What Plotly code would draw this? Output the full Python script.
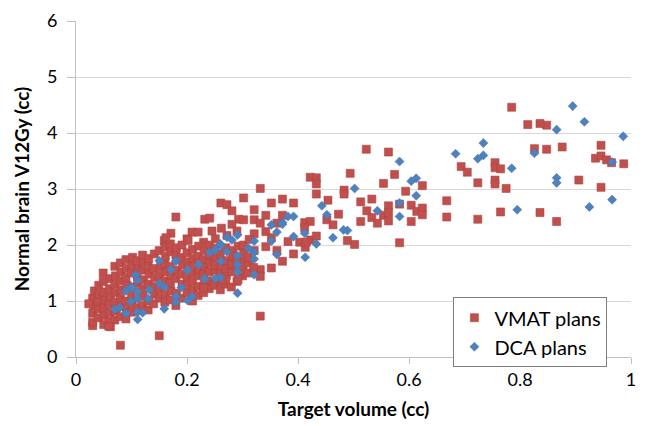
import plotly.graph_objects as go

# VMAT plans (target volume cc, normal brain V12Gy cc)
vmat_x = [0.848, 0.848, 0.876, 0.946, 0.936, 0.946, 0.956, 0.965, 0.987, 0.906,
          0.946, 0.866, 0.785, 0.814, 0.836, 0.826, 0.694, 0.705, 0.755, 0.755,
          0.765, 0.724, 0.755, 0.755, 0.775, 0.668, 0.668, 0.724, 0.765, 0.836,
          0.523, 0.563, 0.494, 0.574, 0.554, 0.594, 0.624, 0.513, 0.533, 0.524,
          0.533, 0.543, 0.513, 0.554, 0.563, 0.563, 0.563, 0.583, 0.604, 0.614,
          0.624, 0.624, 0.604, 0.502, 0.583, 0.489, 0.422, 0.433, 0.433, 0.433,
          0.483, 0.483, 0.332, 0.352, 0.372, 0.392, 0.454, 0.473, 0.452, 0.463,
          0.321, 0.321, 0.332, 0.342, 0.342, 0.352, 0.362, 0.372, 0.412, 0.422,
          0.412, 0.422, 0.433, 0.321, 0.342, 0.362, 0.382, 0.403, 0.413, 0.392,
          0.372, 0.352, 0.332, 0.332, 0.332, 0.302, 0.261, 0.272, 0.281, 0.293,
          0.302, 0.281, 0.180, 0.232, 0.241, 0.171, 0.159, 0.209, 0.220, 0.200,
          0.230, 0.251, 0.272, 0.282, 0.302, 0.302, 0.150, 0.030, 0.080, 0.030,
          0.030, 0.032, 0.030, 0.033, 0.040, 0.041, 0.040, 0.042, 0.041, 0.050,
          0.051, 0.050, 0.052, 0.050, 0.049, 0.049, 0.060, 0.061, 0.060, 0.062,
          0.060, 0.061, 0.070, 0.071, 0.070, 0.072, 0.070, 0.071, 0.070, 0.080,
          0.081, 0.080, 0.082, 0.080, 0.081, 0.080, 0.090, 0.091, 0.090, 0.092,
          0.090, 0.091, 0.090, 0.100, 0.101, 0.100, 0.102, 0.100, 0.101, 0.102,
          0.110, 0.111, 0.110, 0.112, 0.110, 0.120, 0.121, 0.120, 0.122, 0.120,
          0.121, 0.120, 0.130, 0.131, 0.130, 0.132, 0.130, 0.131, 0.140, 0.141,
          0.140, 0.142, 0.140, 0.141, 0.150, 0.151, 0.150, 0.152, 0.150, 0.160,
          0.161, 0.160, 0.162, 0.160, 0.161, 0.160, 0.170, 0.171, 0.170, 0.172,
          0.170, 0.171, 0.170, 0.180, 0.181, 0.180, 0.182, 0.180, 0.181, 0.190,
          0.191, 0.190, 0.192, 0.190, 0.191, 0.200, 0.201, 0.200, 0.202, 0.200,
          0.210, 0.211, 0.210, 0.212, 0.210, 0.211, 0.210, 0.220, 0.221, 0.220,
          0.222, 0.220, 0.221, 0.230, 0.231, 0.230, 0.232, 0.230, 0.231, 0.240,
          0.241, 0.240, 0.242, 0.240, 0.241, 0.250, 0.251, 0.250, 0.252, 0.250,
          0.260, 0.261, 0.260, 0.262, 0.260, 0.270, 0.271, 0.270, 0.272, 0.270,
          0.280, 0.281, 0.280, 0.282, 0.290, 0.291, 0.290, 0.292, 0.300, 0.301,
          0.300, 0.302, 0.310, 0.311, 0.310, 0.312, 0.320, 0.321, 0.062, 0.162,
          0.262, 0.245, 0.290, 0.023, 0.059, 0.202, 0.263, 0.292, 0.230, 0.415]
vmat_y = [4.14, 3.71, 3.75, 3.78, 3.55, 3.59, 3.52, 3.47, 3.45, 3.16,
          3.03, 2.42, 4.46, 4.15, 4.17, 3.72, 3.40, 3.30, 3.47, 3.38,
          3.36, 3.11, 3.16, 3.09, 3.01, 2.79, 2.50, 2.46, 2.59, 2.58,
          3.71, 3.66, 3.28, 3.26, 3.10, 2.96, 3.06, 2.77, 2.82, 2.61,
          2.49, 2.39, 2.42, 2.53, 2.70, 2.58, 2.43, 2.73, 2.71, 2.60,
          2.66, 2.54, 2.42, 2.01, 2.04, 2.08, 3.21, 3.20, 3.09, 2.91,
          2.98, 2.91, 3.01, 2.75, 2.82, 2.75, 2.80, 2.55, 2.45, 2.36,
          2.63, 2.45, 2.39, 2.53, 2.24, 2.13, 2.39, 2.53, 2.40, 2.42,
          2.31, 2.09, 2.16, 2.20, 1.97, 1.90, 2.06, 2.05, 1.96, 1.84,
          1.71, 1.59, 1.56, 1.44, 0.73, 2.84, 2.75, 2.72, 2.61, 2.46,
          2.45, 2.37, 2.50, 2.46, 2.48, 2.21, 2.08, 2.23, 2.23, 2.11,
          2.05, 2.11, 2.17, 1.90, 1.87, 1.72, 0.38, 0.56, 0.21, 0.62,
          0.78, 0.92, 1.05, 1.18, 0.70, 0.86, 1.00, 1.12, 1.28, 0.58,
          0.74, 0.88, 1.02, 1.16, 1.35, 1.50, 0.64, 0.80, 0.95, 1.08,
          1.22, 1.40, 0.66, 0.82, 0.98, 1.15, 1.30, 1.45, 1.62, 0.72,
          0.90, 1.05, 1.20, 1.36, 1.52, 1.68, 0.68, 0.85, 1.00, 1.28,
          1.42, 1.58, 1.74, 0.80, 0.95, 1.10, 1.25, 1.50, 1.65, 1.78,
          0.88, 1.32, 1.46, 1.60, 1.72, 0.92, 1.08, 1.22, 1.38, 1.55,
          1.70, 1.82, 0.84, 1.00, 1.30, 1.48, 1.62, 1.76, 0.95, 1.12,
          1.26, 1.42, 1.58, 1.84, 1.05, 1.20, 1.45, 1.60, 1.90, 0.98,
          1.12, 1.36, 1.52, 1.66, 1.80, 1.96, 1.02, 1.18, 1.32, 1.46,
          1.62, 1.88, 2.02, 0.92, 1.14, 1.40, 1.55, 1.82, 1.95, 1.05,
          1.30, 1.48, 1.64, 1.78, 2.00, 1.15, 1.28, 1.42, 1.70, 1.86,
          1.00, 1.20, 1.35, 1.50, 1.62, 1.76, 1.92, 1.10, 1.26, 1.45,
          1.55, 1.80, 1.98, 1.15, 1.30, 1.48, 1.62, 1.74, 1.90, 1.22,
          1.36, 1.52, 1.68, 1.82, 2.00, 1.28, 1.55, 1.64, 1.78, 1.94,
          1.20, 1.35, 1.50, 1.62, 1.84, 1.30, 1.45, 1.58, 1.72, 1.95,
          1.25, 1.52, 1.66, 1.80, 1.35, 1.58, 1.70, 1.98, 1.45, 1.55,
          1.62, 2.00, 1.50, 1.68, 1.78, 2.10, 1.60, 1.90, 0.54, 2.13,
          2.30, 2.25, 2.25, 0.95, 0.55, 2.08, 1.38, 1.38, 1.24, 2.05]

# DCA plans
dca_x = [0.895, 0.916, 0.866, 0.986, 0.966, 0.866, 0.866, 0.966, 0.925, 0.684,
         0.734, 0.724, 0.734, 0.785, 0.826, 0.795, 0.502, 0.583, 0.604, 0.613,
         0.613, 0.583, 0.543, 0.583, 0.489, 0.443, 0.452, 0.482, 0.463, 0.433,
         0.412, 0.392, 0.382, 0.392, 0.372, 0.362, 0.352, 0.352, 0.362, 0.413,
         0.321, 0.321, 0.321, 0.311, 0.321, 0.291, 0.272, 0.281, 0.261, 0.241,
         0.251, 0.272, 0.291, 0.291, 0.291, 0.261, 0.260, 0.251, 0.232, 0.221,
         0.201, 0.180, 0.171, 0.150, 0.150, 0.159, 0.190, 0.180, 0.209, 0.201,
         0.180, 0.291, 0.159, 0.108, 0.111, 0.099, 0.090, 0.111, 0.132, 0.130,
         0.111, 0.099, 0.070, 0.079, 0.090, 0.111, 0.120, 0.111, 0.180, 0.101,
         0.372, 0.260]
dca_y = [4.48, 4.20, 4.06, 3.94, 3.48, 3.20, 3.11, 2.81, 2.68, 3.63,
         3.82, 3.54, 3.60, 3.37, 3.64, 2.63, 3.01, 3.49, 3.14, 3.19,
         2.88, 2.75, 2.61, 2.51, 2.26, 2.70, 2.54, 2.27, 2.13, 2.02,
         2.21, 2.15, 2.51, 2.51, 2.40, 2.23, 2.36, 2.07, 1.83, 1.78,
         2.07, 1.87, 1.75, 1.94, 1.47, 2.18, 2.14, 2.09, 1.99, 1.87,
         1.91, 1.88, 1.81, 1.65, 1.52, 1.71, 1.42, 1.40, 1.40, 1.65,
         1.55, 1.71, 1.56, 1.72, 1.31, 1.25, 1.24, 1.08, 1.08, 1.01,
         0.98, 1.14, 0.86, 1.47, 1.37, 1.25, 1.18, 1.16, 1.20, 1.04,
         1.04, 0.99, 0.85, 0.88, 0.78, 0.80, 0.79, 0.67, 1.72, 1.24,
         2.37, 2.02]

x_ticks = [0, 0.2, 0.4, 0.6, 0.8, 1]
x_tick_text = ["0", "0.2", "0.4", "0.6", "0.8", "1"]
y_ticks = [0, 1, 2, 3, 4, 5, 6]

FONT = "Lato"

fig = go.Figure()
fig.add_trace(go.Scatter(
    x=vmat_x, y=vmat_y, mode="markers", name="VMAT plans",
    marker=dict(symbol="square", size=8, color="#C0504D",
                line=dict(width=0.6, color="#B4423F")),
))
fig.add_trace(go.Scatter(
    x=dca_x, y=dca_y, mode="markers", name="DCA plans",
    marker=dict(symbol="diamond", size=7, color="#4F81BD",
                line=dict(width=0.5, color="#4577B3")),
))

fig.update_layout(
    width=645, height=426,
    margin=dict(l=76, r=9, t=19, b=69),
    paper_bgcolor="white", plot_bgcolor="white",
    font=dict(family=FONT, size=18, color="#000000"),
    showlegend=True,
    legend=dict(
        x=0.68, y=0.178, xanchor="left", yanchor="top",
        bgcolor="white", bordercolor="#7F7F7F", borderwidth=1,
        font=dict(family=FONT, size=20, color="#000000"),
        tracegroupgap=0,
    ),
    xaxis=dict(
        range=[0, 1], tickvals=x_ticks, ticktext=x_tick_text,
        showgrid=False, zeroline=False,
        showline=True, linecolor="#BFBFBF", linewidth=1,
        ticks="outside", ticklen=6, tickcolor="#BFBFBF",
        tickfont=dict(family=FONT, size=18, color="#000000"),
        title=dict(text="<b>Target volume (cc)</b>", standoff=14,
                   font=dict(family=FONT, size=19, color="#000000")),
        fixedrange=True,
    ),
    yaxis=dict(
        range=[0, 6], tickvals=y_ticks,
        showgrid=True, gridcolor="#D9D9D9", gridwidth=1,
        zeroline=False,
        showline=True, linecolor="#BFBFBF", linewidth=1,
        ticks="outside", ticklen=8, tickcolor="#BFBFBF",
        ticklabelstandoff=6,
        tickfont=dict(family=FONT, size=18, color="#000000"),
        title=dict(text="<b>Normal brain V12Gy (cc)</b>", standoff=12,
                   font=dict(family=FONT, size=19, color="#000000")),
        fixedrange=True,
    ),
)

fig.write_html("out.html")
